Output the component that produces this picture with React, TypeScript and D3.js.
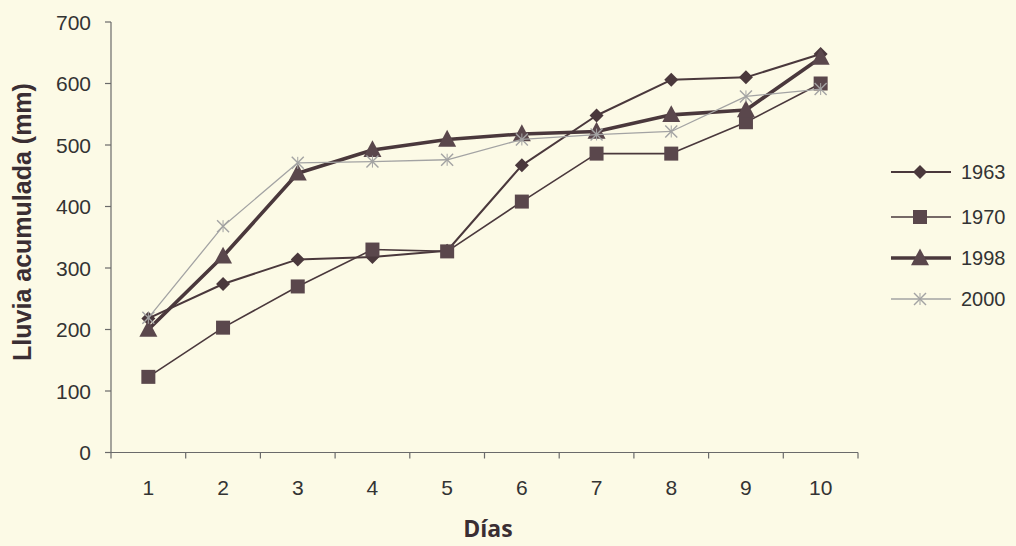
import React from "react";
import * as d3 from "d3";

const days = ["1", "2", "3", "4", "5", "6", "7", "8", "9", "10"];
const yTicks = [0, 100, 200, 300, 400, 500, 600, 700];
const s1963 = [218, 274, 314, 318, 328, 467, 548, 606, 610, 648];
const s1970 = [123, 203, 270, 330, 327, 408, 486, 486, 537, 600];
const s1998 = [200, 319, 454, 492, 509, 518, 522, 549, 557, 642];
const s2000 = [219, 368, 471, 473, 476, 509, 517, 522, 579, 591];

const seriesNames = ["1963", "1970", "1998", "2000"];

const DARK = "#4a383c";
const FILL = "#5a474c";
const GRAY = "#a3a3a3";
const BG = "#fcfae6";

type Marker = "diamond" | "square" | "triangle" | "x";

const seriesStyle: { color: string; width: number; marker: Marker }[] = [
  { color: DARK, width: 2, marker: "diamond" },
  { color: DARK, width: 1.6, marker: "square" },
  { color: DARK, width: 3.6, marker: "triangle" },
  { color: GRAY, width: 1.3, marker: "x" },
];

function MarkerShape({ type, x, y }: { type: Marker; x: number; y: number }) {
  if (type === "diamond") {
    const r = 7;
    return (
      <path
        d={`M${x},${y - r}L${x + r},${y}L${x},${y + r}L${x - r},${y}Z`}
        fill={DARK}
      />
    );
  }
  if (type === "square") {
    const s = 14;
    return <rect x={x - s / 2} y={y - s / 2} width={s} height={s} fill={FILL} />;
  }
  if (type === "triangle") {
    const w = 9, h = 16;
    return (
      <path
        d={`M${x},${y - h * 0.6}L${x + w},${y + h * 0.45}L${x - w},${y + h * 0.45}Z`}
        fill={FILL}
      />
    );
  }
  const r = 6;
  return (
    <g stroke={GRAY} strokeWidth={1.4}>
      <line x1={x - r} y1={y - r} x2={x + r} y2={y + r} />
      <line x1={x - r} y1={y + r} x2={x + r} y2={y - r} />
      <line x1={x} y1={y - r} x2={x} y2={y + r} strokeWidth={1} />
    </g>
  );
}

export default function App() {
  const W = 1016, H = 546;
  const left = 111, right = 858, top = 22, bottom = 452.5;
  const x = d3.scaleBand<string>().domain(days).range([left, right]);
  const y = d3.scaleLinear().domain([0, 700]).range([bottom, top]);
  const data = [s1963, s1970, s1998, s2000];
  const line = d3
    .line<number>()
    .x((_, i) => (x(days[i]) as number) + x.bandwidth() / 2)
    .y((d) => y(d));
  const font = "'Liberation Sans', Arial, sans-serif";
  const legendY = [172, 217, 258, 299];

  return (
    <div style={{ position: "fixed", left: 0, top: 0 }}>
      <svg width={W} height={H} style={{ display: "block", background: BG }}>
        <rect x={0} y={0} width={W} height={H} fill={BG} />
        {/* axes */}
        <g stroke="#6a6a6a" strokeWidth={1.2}>
          <line x1={left} y1={top} x2={left} y2={bottom} />
          <line x1={left} y1={bottom} x2={right} y2={bottom} />
          {yTicks.map((t) => (
            <line key={t} x1={left - 6} x2={left} y1={y(t)} y2={y(t)} />
          ))}
          {[...days.map((d) => x(d) as number), right].map((px, i) => (
            <line key={i} x1={px} x2={px} y1={bottom} y2={bottom + 6} />
          ))}
        </g>
        <g fontFamily={font} fontSize={21} fill="#333">
          {yTicks.map((t) => (
            <text key={t} x={91} y={y(t)} dy="0.36em" textAnchor="end">
              {t}
            </text>
          ))}
          {days.map((d) => (
            <text
              key={d}
              x={(x(d) as number) + x.bandwidth() / 2}
              y={495}
              textAnchor="middle"
            >
              {d}
            </text>
          ))}
        </g>
        <text
          x={488}
          y={537}
          textAnchor="middle"
          fontFamily="'Open Sans', sans-serif"
          fontSize={23}
          fontWeight="bold"
          fill="#3a2e33"
        >
          Días
        </text>
        <text
          transform={`translate(31,222) rotate(-90)`}
          textAnchor="middle"
          fontFamily={font}
          fontSize={25}
          fontWeight="bold"
          fill="#3a2e33"
        >
          Lluvia acumulada (mm)
        </text>
        {/* series */}
        {data.map((s, si) => (
          <g key={si}>
            <path
              d={line(s) as string}
              fill="none"
              stroke={seriesStyle[si].color}
              strokeWidth={seriesStyle[si].width}
              strokeLinejoin="round"
            />
            {s.map((v, i) => (
              <MarkerShape
                key={i}
                type={seriesStyle[si].marker}
                x={(x(days[i]) as number) + x.bandwidth() / 2}
                y={y(v)}
              />
            ))}
          </g>
        ))}
        {/* legend */}
        {seriesNames.map((n, i) => (
          <g key={n}>
            <line
              x1={891}
              x2={951}
              y1={legendY[i]}
              y2={legendY[i]}
              stroke={seriesStyle[i].color}
              strokeWidth={seriesStyle[i].width}
            />
            <MarkerShape type={seriesStyle[i].marker} x={920} y={legendY[i]} />
            <text
              x={961}
              y={legendY[i]}
              dy="0.36em"
              fontFamily={font}
              fontSize={20}
              fill="#333"
            >
              {n}
            </text>
          </g>
        ))}
      </svg>
    </div>
  );
}
